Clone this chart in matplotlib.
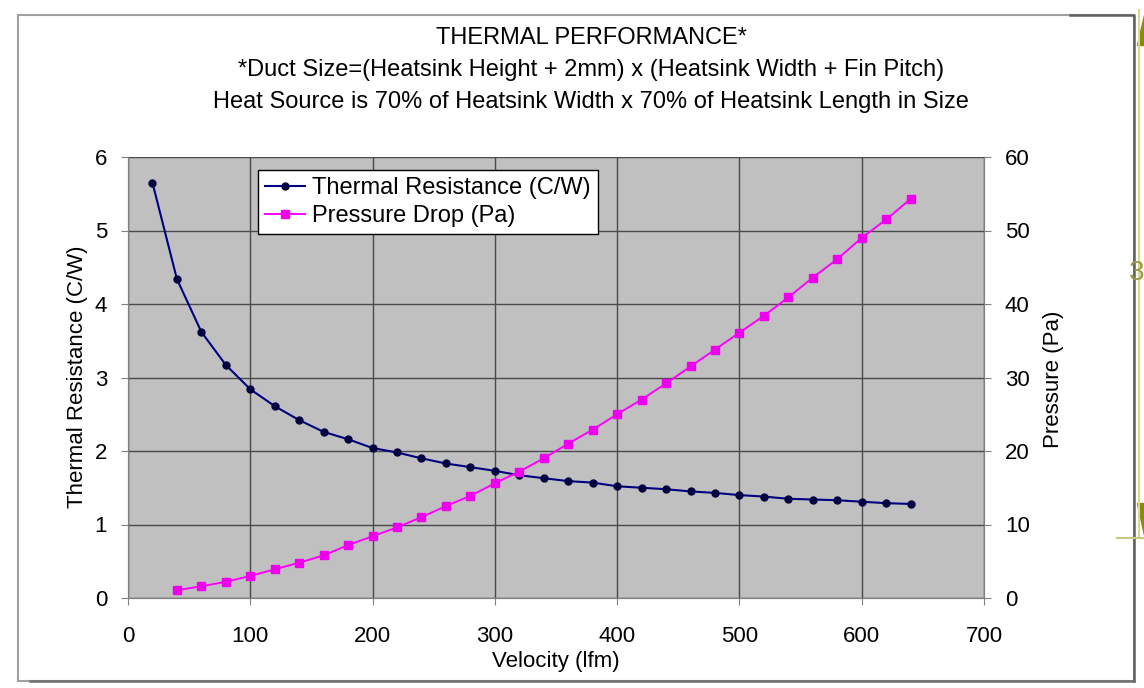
import matplotlib.pyplot as plt
from matplotlib.patches import Rectangle, Polygon
from matplotlib.lines import Line2D

plt.rcParams['font.family'] = ['Liberation Sans', 'DejaVu Sans']

# data
velocity_r = [20, 40, 60, 80, 100, 120, 140, 160, 180, 200, 220, 240, 260, 280, 300, 320,
              340, 360, 380, 400, 420, 440, 460, 480, 500, 520, 540, 560, 580, 600, 620, 640]
resistance = [5.65, 4.34, 3.62, 3.17, 2.84, 2.61, 2.42, 2.26, 2.16, 2.04, 1.98, 1.90, 1.83, 1.78, 1.73, 1.67,
              1.63, 1.59, 1.57, 1.52, 1.50, 1.48, 1.45, 1.43, 1.40, 1.38, 1.35, 1.34, 1.33, 1.31, 1.29, 1.28]
velocity_p = [40, 60, 80, 100, 120, 140, 160, 180, 200, 220, 240, 260, 280, 300, 320,
              340, 360, 380, 400, 420, 440, 460, 480, 500, 520, 540, 560, 580, 600, 620, 640]
pressure = [1.05, 1.6, 2.2, 3.0, 3.9, 4.8, 5.8, 7.2, 8.4, 9.6, 11.0, 12.5, 13.9, 15.6, 17.2,
            19.0, 21.0, 22.9, 25.0, 27.0, 29.2, 31.5, 33.8, 36.1, 38.4, 40.9, 43.6, 46.1, 49.0, 51.5, 54.3]

x_ticks = [0, 100, 200, 300, 400, 500, 600, 700]
left_ticks = [0, 1, 2, 3, 4, 5, 6]
right_ticks = [0, 10, 20, 30, 40, 50, 60]

W, H = 1144, 688


def fx(x):
    return x / W


def fy(y):
    return 1 - y / H


fig = plt.figure(figsize=(W / 100, H / 100), dpi=100)
ax = fig.add_axes([fx(128), fy(598), (984 - 128) / W, (598 - 157) / H])
ax.set_facecolor('#c0c0c0')

l1, = ax.plot(velocity_r, resistance, color='#000080', marker='o', ms=5,
              mfc='#000040', mec='#000040', lw=1.5, label='Thermal Resistance (C/W)')
ax.set_xlim(0, 700)
ax.set_ylim(0, 6)
ax.set_xticks(x_ticks)
ax.set_yticks(left_ticks)
ax.grid(True, color='#4a4a4a', lw=1)
ax.set_axisbelow(True)

ax2 = ax.twinx()
l2, = ax2.plot(velocity_p, pressure, color='#ff00ff', marker='s', ms=5.5,
               mfc='#ee00ee', mec='#ee00ee', lw=1.4, label='Pressure Drop (Pa)')
ax2.set_ylim(0, 60)
ax2.set_yticks(right_ticks)

for a in (ax, ax2):
    for s in a.spines.values():
        s.set_color('#808080')
    a.spines['top'].set_visible(False)
ax.tick_params(axis='x', labelsize=16, length=5, color='#808080', pad=15)
ax.tick_params(axis='y', labelsize=16, length=5, color='#808080', pad=10)
ax2.tick_params(axis='y', labelsize=16, length=5, color='#808080', pad=10)

leg = ax2.legend(handles=[l1, l2], loc='upper left',
                 bbox_to_anchor=(fx(258), fy(170)), bbox_transform=fig.transFigure,
                 borderaxespad=0, fancybox=False, framealpha=1, edgecolor='black',
                 fontsize=17, handlelength=1.7, handletextpad=0.3, borderpad=0.3,
                 labelspacing=0.25)
leg.get_frame().set_linewidth(1)

# titles and axis labels
fig.text(fx(591), fy(38), 'THERMAL PERFORMANCE*', ha='center', va='center', fontsize=17)
fig.text(fx(591), fy(70), '*Duct Size=(Heatsink Height + 2mm) x (Heatsink Width + Fin Pitch)',
         ha='center', va='center', fontsize=17)
fig.text(fx(591), fy(102), 'Heat Source is 70% of Heatsink Width x 70% of Heatsink Length in Size',
         ha='center', va='center', fontsize=17)
fig.text(fx(556), fy(662), 'Velocity (lfm)', ha='center', va='center', fontsize=16)
fig.text(fx(78), fy(377), 'Thermal Resistance (C/W)', ha='center', va='center',
         rotation=90, fontsize=16)
fig.text(fx(1053), fy(379), 'Pressure (Pa)', ha='center', va='center',
         rotation=90, fontsize=16)

# chart frame, with a darker shadow edge on the right and bottom
fig.add_artist(Rectangle((fx(18), fy(681)), (1134 - 18) / W, (681 - 15) / H,
                         transform=fig.transFigure, fill=False, ec='#a0a0a0', lw=1.5))
fig.add_artist(Line2D([fx(1070), fx(1134), fx(1134)], [fy(15), fy(15), fy(681)],
                      transform=fig.transFigure, color='#606060', lw=1.8))
fig.add_artist(Line2D([fx(30), fx(1134)], [fy(681), fy(681)],
                      transform=fig.transFigure, color='#707070', lw=1.8))

# yellow marker on the right edge
fig.add_artist(Line2D([fx(1139), fx(1139)], [fy(10), fy(538)], transform=fig.transFigure,
                      color='#d8d890', lw=1.5))
fig.add_artist(Line2D([fx(1117), fx(1144)], [fy(538), fy(538)], transform=fig.transFigure,
                      color='#c8c880', lw=1.5))
fig.add_artist(Polygon([(fx(1137), fy(45)), (fx(1144), fy(45)), (fx(1144), fy(15))],
                       closed=True, transform=fig.transFigure, color='#8a8a10'))
fig.add_artist(Polygon([(fx(1137), fy(503)), (fx(1144), fy(503)), (fx(1144), fy(535))],
                       closed=True, transform=fig.transFigure, color='#8a8a10'))
fig.text(fx(1137), fy(273), '3', ha='center', va='center', fontsize=20, color='#a09840')

fig.savefig('out.png', dpi=100)
